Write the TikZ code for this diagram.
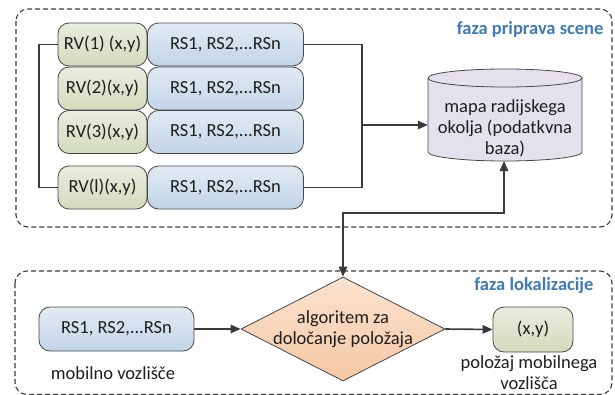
\documentclass[tikz,border=0pt]{standalone}
\usepackage{fontspec}
\setmainfont{Carlito}
\usetikzlibrary{shapes.geometric,arrows.meta,calc}
\definecolor{bordc}{HTML}{474747}
\definecolor{linec}{HTML}{3A3A3A}
\definecolor{titc}{HTML}{3F7AB5}
\definecolor{rvtop}{HTML}{E9EDDF}
\definecolor{rvbot}{HTML}{D3DBBD}
\definecolor{rstop}{HTML}{E2EBF4}
\definecolor{rsbot}{HTML}{C2D4E7}
\definecolor{dmtop}{HTML}{FBE3D0}
\definecolor{dmbot}{HTML}{F5C7A3}
\definecolor{dbc}{HTML}{E4E1ED}
\definecolor{txtc}{HTML}{1E1E1E}
\begin{document}
\begin{tikzpicture}[x=1pt,y=-1pt,
  every node/.style={font=\fontsize{18.5}{21}\selectfont, text=txtc},
  rvbox/.style={draw=bordc, line width=0.8pt, rounded corners=11pt, top color=rvtop, bottom color=rvbot, inner sep=0pt, minimum width=89pt, minimum height=43pt},
  rsbox/.style={draw=bordc, line width=0.8pt, rounded corners=11pt, top color=rstop, bottom color=rsbot, inner sep=0pt, minimum width=156pt, minimum height=43pt},
  phase/.style={draw=linec, line width=1.1pt, dash pattern=on 5pt off 3pt, rounded corners=12pt},
  title/.style={font=\fontsize{18.5}{21}\selectfont\bfseries, text=titc, anchor=east},
  conn/.style={draw=linec, line width=1.6pt, -{Triangle[length=10pt,width=8.5pt]}},
  plainln/.style={draw=linec, line width=1.6pt},
  lbl/.style={align=center},
]
\useasboundingbox (0,0) rectangle (615,394);
% phase frames
\draw[phase] (16,9) rectangle (612,227);
\draw[phase] (15,271) rectangle (612,394.5);
\node[title] (t1) at (607,29) {faza priprava scene};
\node[title] (t2) at (597,286) {faza lokalizacije};
% table rows
\node[rvbox] (rv1) at (102.5,44.5) {RV(1) (x,y)};
\node[rvbox] (rv2) at (102.5,88.5) {RV(2)(x,y)};
\node[rvbox] (rv3) at (102.5,132) {RV(3)(x,y)};
\node[rvbox] (rvl) at (102.5,187.5) {RV(l)(x,y)};
\node[rsbox] (rs1) at (225.5,44.5) {RS1, RS2,...RSn};
\node[rsbox] (rs2) at (225.5,88.5) {RS1, RS2,...RSn};
\node[rsbox] (rs3) at (225.5,132) {RS1, RS2,...RSn};
\node[rsbox] (rsl) at (225.5,187.5) {RS1, RS2,...RSn};
% brackets
\draw[plainln] (rv1.west) -- (39,44.5) -- (39,187.5) -- (rvl.west);
\draw[plainln] (rs1.east) -- (362,44.5) -- (362,187.5) -- (rsl.east);
\coordinate (bm) at (362,125);
% database
\node[inner sep=0pt, minimum width=154pt, minimum height=92pt, lbl] (db) at (505,120) {};
\draw[draw=bordc, line width=0.8pt, fill=dbc]
  (428,78) -- (428,152) arc[start angle=180, end angle=360, x radius=77pt, y radius=9pt]
  -- (582,78) arc[start angle=0, end angle=180, x radius=77pt, y radius=9pt] -- cycle;
\draw[draw=bordc, line width=0.8pt] (428,78) arc[start angle=180, end angle=360, x radius=77pt, y radius=9pt];
\node[lbl] (dbt) at (505,128) {mapa radijskega\\okolja (podatkvna\\baza)};
\draw[conn] (bm) -- (db.west |- bm);
% localization
\node[rsbox, minimum width=155pt, minimum height=44pt] (rsm) at (116.5,329) {RS1, RS2,...RSn};
\node (ml) at (113,373) {mobilno vozlišče};
\node[diamond, draw=bordc, line width=0.8pt, top color=dmtop, bottom color=dmbot, inner sep=0pt, minimum width=204pt, minimum height=104pt] (alg) at (343,329) {};
\node[lbl] (algt) at (343,329) {algoritem za\\določanje položaja};
\node[rvbox, minimum width=80pt, minimum height=45pt] (xy) at (533,329.5) {(x,y)};
\node[lbl] (pl) at (529,373) {položaj mobilnega\\vozlišča};
\draw[conn] (rsm.east) -- (alg.west);
\draw[conn] (alg.east) -- (xy.west);
\draw[conn, {Triangle[length=10pt,width=8.5pt]}-{Triangle[length=10pt,width=8.5pt]}] (504,161) -- (504,213) -- (343,213) -- (alg.north);
\end{tikzpicture}
\end{document}
